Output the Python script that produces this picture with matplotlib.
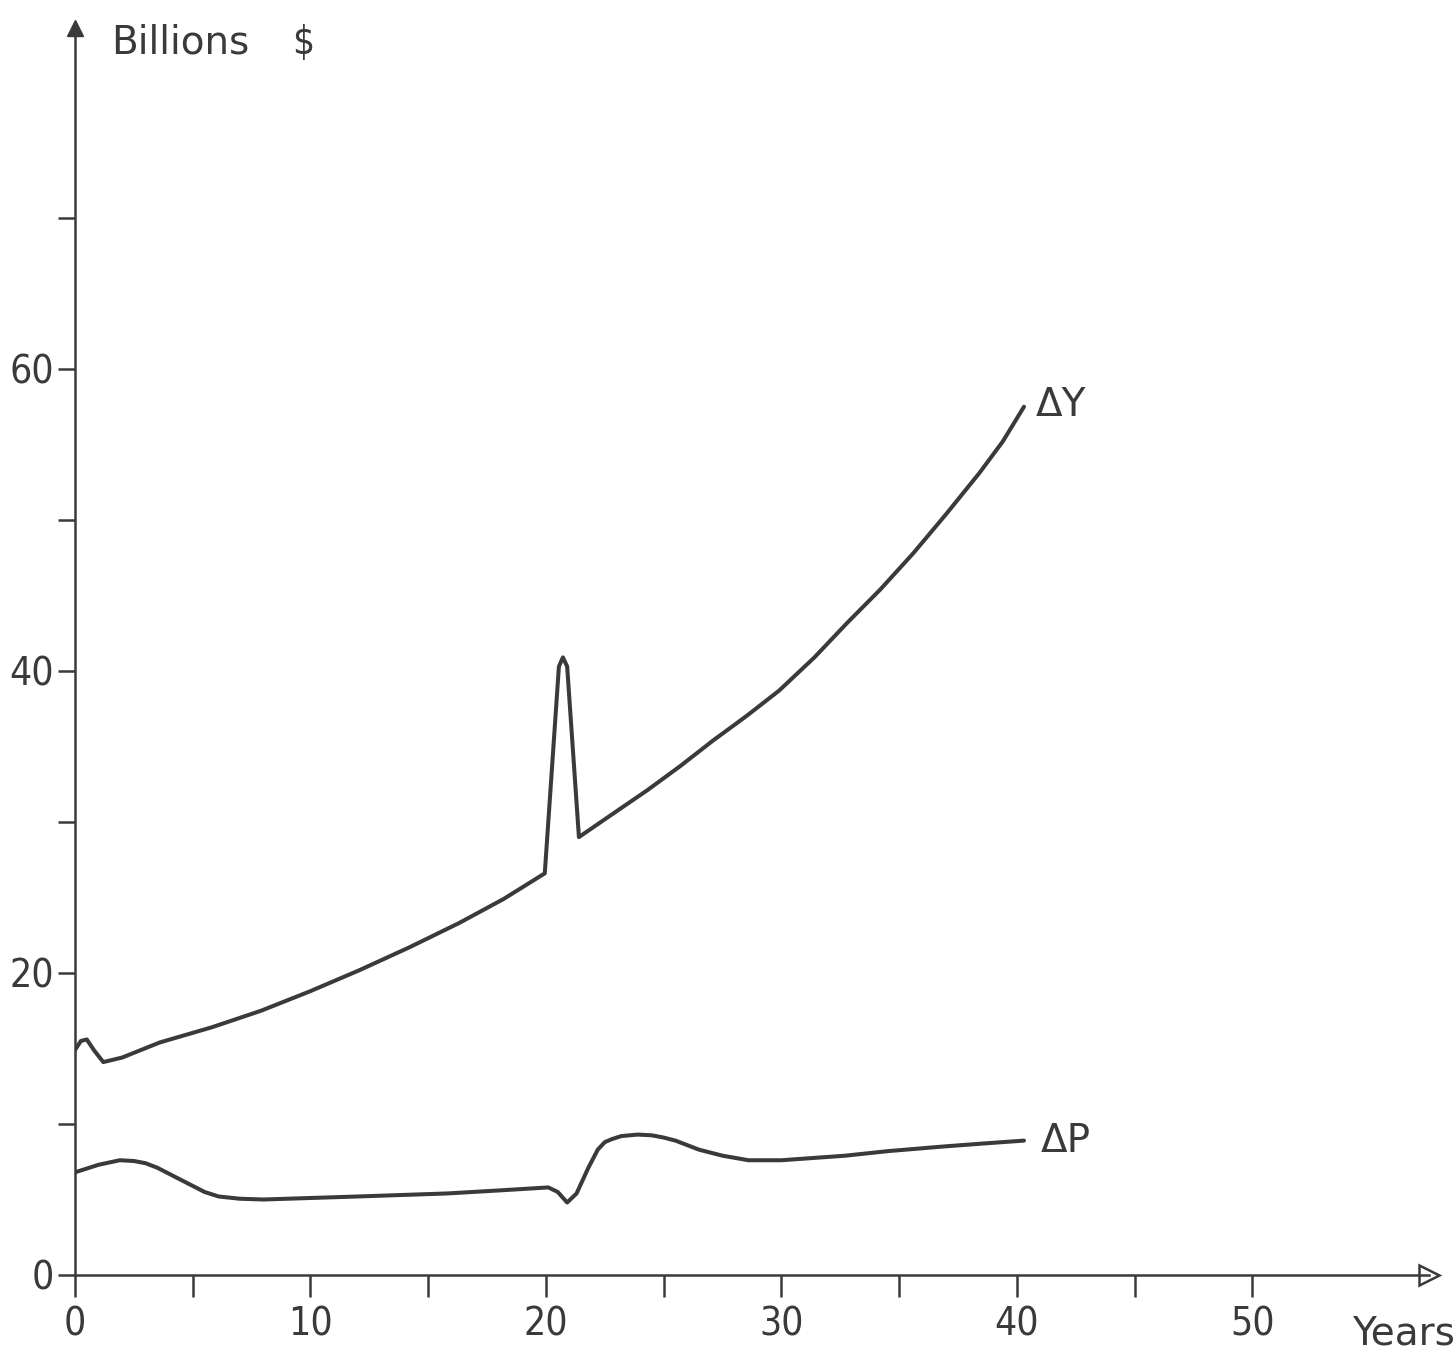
import matplotlib
matplotlib.use("Agg")
import matplotlib.pyplot as plt

# Data
years_dy = [0.0, 0.25, 0.5, 0.8, 1.2, 2.0, 3.6, 5.8, 7.9, 10.0, 12.1, 14.2, 16.3, 18.2,
            19.95, 20.55, 20.72, 20.9, 21.4, 22.8, 24.3, 25.7, 27.1, 28.5, 29.9,
            31.4, 32.8, 34.2, 35.6, 37.0, 38.4, 39.4, 40.3]
delta_y = [14.9, 15.5, 15.6, 14.9, 14.1, 14.4, 15.4, 16.4, 17.5, 18.8, 20.2, 21.7, 23.3, 24.9,
           26.6, 40.3, 40.9, 40.3, 29.0, 30.5, 32.1, 33.7, 35.4, 37.0, 38.7,
           40.9, 43.2, 45.4, 47.8, 50.4, 53.1, 55.2, 57.5]

years_dp = [0.0, 1.0, 1.9, 2.5, 3.0, 3.5, 4.0, 4.5, 5.0, 5.5, 6.1, 7.0, 8.0, 10.0, 12.0,
            15.8, 18.0, 20.1, 20.5, 20.9, 21.3, 21.8, 22.2, 22.5, 22.8, 23.2, 23.9,
            24.5, 25.0, 25.5, 26.5, 27.5, 28.6, 30.0, 32.7, 34.5, 36.8, 38.5, 40.3]
delta_p = [6.8, 7.3, 7.6, 7.55, 7.4, 7.1, 6.7, 6.3, 5.9, 5.5, 5.2, 5.05, 5.0, 5.1, 5.2,
           5.4, 5.6, 5.8, 5.5, 4.8, 5.4, 7.1, 8.3, 8.8, 9.0, 9.2, 9.3,
           9.25, 9.1, 8.9, 8.3, 7.9, 7.6, 7.6, 7.9, 8.2, 8.5, 8.7, 8.9]

x_major = [0, 10, 20, 30, 40, 50]
x_minor = [5, 15, 25, 35, 45]
y_major = [0, 20, 40, 60]
y_minor = [10, 30, 50, 70]

ink = "#3a3a3a"
fs = 28
font = dict(family="DejaVu Sans", stretch="condensed")

fig = plt.figure(figsize=(14.55, 13.54), dpi=100)
ax = fig.add_axes([75/1455, (1354-1275)/1354, (1429-75)/1455, 82.6*15.1/1354])
ax.set_xlim(0, 57.5)
ax.set_ylim(0, 82.6)

ax.plot(years_dy, delta_y, color=ink, lw=2.9, solid_joinstyle="round", solid_capstyle="round")
ax.plot(years_dp, delta_p, color=ink, lw=2.9, solid_joinstyle="round", solid_capstyle="round")

for s in ["top", "right"]:
    ax.spines[s].set_visible(False)
for s in ["left", "bottom"]:
    ax.spines[s].set_color(ink)
    ax.spines[s].set_linewidth(1.8)

ax.set_xticks(x_major)
ax.set_xticks(x_minor, minor=True)
ax.set_yticks(y_major)
ax.set_yticks(y_minor, minor=True)
ax.tick_params(axis="both", which="both", direction="out", length=16, width=1.8,
               color=ink, labelcolor=ink, labelsize=fs)
ax.tick_params(axis="x", which="both", pad=6)
ax.tick_params(axis="y", which="both", pad=3, length=12)
for lab in ax.get_xticklabels() + ax.get_yticklabels():
    lab.set_fontstretch("condensed")

# axis arrows
ax.plot(0, 1, marker="^", markersize=12, color=ink, transform=ax.transAxes, clip_on=False)
ax.plot(1, 0, marker=">", markersize=14, markerfacecolor="white", markeredgecolor=ink,
        markeredgewidth=1.8, transform=ax.transAxes, clip_on=False)

ax.text(1.55, 81.6, "Billions", fontsize=fs, color=ink, va="center", ha="left",
        family="DejaVu Sans")
ax.text(9.2, 81.6, "$", fontsize=fs, color=ink, va="center", ha="left", **font)
ax.text(56.4, -3.9, "Years", fontsize=fs, color=ink, va="center", ha="center", clip_on=False,
        family="DejaVu Sans")
ax.text(40.8, 57.6, "ΔY", fontsize=fs, color=ink, va="center", ha="left", family="DejaVu Sans")
ax.text(41.0, 8.9, "ΔP", fontsize=fs, color=ink, va="center", ha="left", family="DejaVu Sans")

fig.savefig("out.png", dpi=100, facecolor="white")
